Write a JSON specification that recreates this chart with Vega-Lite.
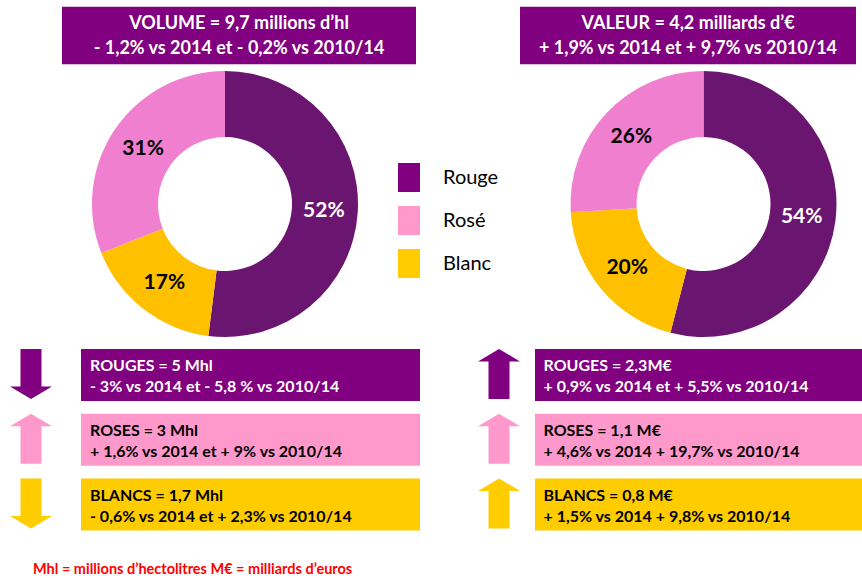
{
  "$schema": "https://vega.github.io/schema/vega-lite/v6.json",
  "width": 862,
  "height": 578,
  "padding": 0,
  "autosize": "none",
  "background": "white",
  "config": {"view": {"stroke": null}, "font": "Lato", "text": {"font": "Lato"}},
  "title": {
    "text": "Mhl = millions d’hectolitres  M€ = milliards d’euros",
    "orient": "bottom", "anchor": "start", "frame": "group",
    "offset": -15, "dx": 33, "color": "#FF0000", "fontSize": 14.5, "fontWeight": "bold", "font": "Lato"
  },
  "datasets": {
    "shares": [
      {"measure": "Volume", "type": "Rouge", "share": 0.52, "order": 1},
      {"measure": "Volume", "type": "Blanc", "share": 0.17, "order": 2},
      {"measure": "Volume", "type": "Rosé", "share": 0.31, "order": 3},
      {"measure": "Valeur", "type": "Rouge", "share": 0.54, "order": 1},
      {"measure": "Valeur", "type": "Blanc", "share": 0.20, "order": 2},
      {"measure": "Valeur", "type": "Rosé", "share": 0.26, "order": 3}
    ],
    "headers": [
      {"measure": "Volume", "text": "VOLUME = 9,7 millions d’hl\n- 1,2% vs 2014 et - 0,2% vs 2010/14"},
      {"measure": "Valeur", "text": "VALEUR = 4,2 milliards d’€\n+ 1,9% vs 2014 et + 9,7% vs 2010/14"}
    ],
    "details": [
      {"measure": "Volume", "type": "Rouge", "direction": "down", "text": "ROUGES = 5 Mhl\n- 3% vs 2014 et - 5,8 % vs 2010/14"},
      {"measure": "Volume", "type": "Rosé", "direction": "up", "text": "ROSES = 3 Mhl\n+ 1,6% vs 2014 et + 9% vs 2010/14"},
      {"measure": "Volume", "type": "Blanc", "direction": "down", "text": "BLANCS = 1,7 Mhl\n- 0,6% vs 2014 et + 2,3% vs 2010/14"},
      {"measure": "Valeur", "type": "Rouge", "direction": "up", "text": "ROUGES = 2,3M€\n+ 0,9% vs 2014 et + 5,5% vs 2010/14"},
      {"measure": "Valeur", "type": "Rosé", "direction": "up", "text": "ROSES = 1,1 M€\n+ 4,6% vs 2014 + 19,7% vs 2010/14"},
      {"measure": "Valeur", "type": "Blanc", "direction": "up", "text": "BLANCS = 0,8 M€\n+ 1,5% vs 2014 + 9,8% vs 2010/14"}
    ]
  },
  "layer": [
    {
      "data": {"name": "headers"},
      "transform": [{"filter": "datum.measure === 'Volume'"}],
      "mark": {"type": "rect", "y": 6.7, "y2": 64.3, "width": 354, "xOffset": 14, "color": "#800080"},
      "encoding": {
        "x": {"field": "measure", "type": "nominal", "scale": {"type": "point", "domain": ["Volume", "Valeur"], "range": [225, 703.5], "padding": 0}, "axis": null}
      }
    },
    {
      "data": {"name": "headers"},
      "transform": [{"filter": "datum.measure === 'Valeur'"}],
      "mark": {"type": "rect", "y": 6.7, "y2": 64.3, "width": 336, "xOffset": -15.5, "color": "#800080"},
      "encoding": {"x": {"field": "measure", "type": "nominal", "axis": null}}
    },
    {
      "data": {"name": "headers"},
      "transform": [{"filter": "datum.measure === 'Volume'"}],
      "mark": {"type": "text", "y": 24, "xOffset": 14, "lineBreak": "\n", "lineHeight": 25, "fontSize": 18, "fontWeight": "bold", "color": "white", "align": "center", "baseline": "middle"},
      "encoding": {"x": {"field": "measure", "type": "nominal", "axis": null}, "text": {"field": "text"}}
    },
    {
      "data": {"name": "headers"},
      "transform": [{"filter": "datum.measure === 'Valeur'"}],
      "mark": {"type": "text", "y": 24, "xOffset": -15.5, "lineBreak": "\n", "lineHeight": 25, "fontSize": 18, "fontWeight": "bold", "color": "white", "align": "center", "baseline": "middle"},
      "encoding": {"x": {"field": "measure", "type": "nominal", "axis": null}, "text": {"field": "text"}}
    },
    {
      "data": {"name": "shares"},
      "transform": [{"filter": "datum.measure === 'Volume'"}],
      "mark": {"type": "arc", "radius": 133, "radius2": 67, "y": 204},
      "encoding": {
        "x": {"field": "measure", "type": "nominal", "axis": null},
        "theta": {"field": "share", "type": "quantitative", "stack": true},
        "order": {"field": "order", "type": "quantitative"},
        "color": {"field": "type", "type": "nominal", "scale": {"domain": ["Rouge", "Blanc", "Rosé"], "range": ["#6A1570", "#FFC000", "#F07FD0"]}, "legend": null}
      }
    },
    {
      "data": {"name": "shares"},
      "transform": [{"filter": "datum.measure === 'Valeur'"}],
      "mark": {"type": "arc", "radius": 133, "radius2": 67, "y": 204},
      "encoding": {
        "x": {"field": "measure", "type": "nominal", "axis": null},
        "theta": {"field": "share", "type": "quantitative", "stack": true},
        "order": {"field": "order", "type": "quantitative"},
        "color": {"field": "type", "type": "nominal", "legend": null}
      }
    },
    {
      "data": {"name": "shares"},
      "transform": [{"filter": "datum.measure === 'Volume'"}],
      "mark": {"type": "text", "radius": 99, "y": 205, "fontSize": 21, "fontWeight": "bold", "baseline": "middle", "align": "center"},
      "encoding": {
        "x": {"field": "measure", "type": "nominal", "axis": null},
        "theta": {"field": "share", "type": "quantitative", "stack": true},
        "order": {"field": "order", "type": "quantitative"},
        "text": {"field": "share", "type": "quantitative", "format": ".0%"},
        "color": {"condition": {"test": "datum.type === 'Rouge'", "value": "white"}, "value": "black"}
      }
    },
    {
      "data": {"name": "shares"},
      "transform": [{"filter": "datum.measure === 'Valeur'"}],
      "mark": {"type": "text", "radius": 99, "y": 205, "fontSize": 21, "fontWeight": "bold", "baseline": "middle", "align": "center"},
      "encoding": {
        "x": {"field": "measure", "type": "nominal", "axis": null},
        "theta": {"field": "share", "type": "quantitative", "stack": true},
        "order": {"field": "order", "type": "quantitative"},
        "text": {"field": "share", "type": "quantitative", "format": ".0%"},
        "color": {"condition": {"test": "datum.type === 'Rouge'", "value": "white"}, "value": "black"}
      }
    },
    {
      "data": {"name": "details"},
      "transform": [{"filter": "datum.measure === 'Volume'"}],
      "mark": {"type": "rect", "width": 339, "height": 52, "xOffset": 25.5},
      "encoding": {
        "x": {"field": "measure", "type": "nominal", "axis": null},
        "y": {"field": "type", "type": "nominal", "scale": {"type": "point", "domain": ["Rouge", "Rosé", "Blanc"], "range": [375, 504.5], "padding": 0}, "axis": null},
        "fill": {"field": "type", "type": "nominal", "scale": {"domain": ["Rouge", "Rosé", "Blanc"], "range": ["#800080", "#FF99CC", "#FFCC00"]},
          "legend": {"orient": "none", "legendX": 394.5, "legendY": 163, "direction": "vertical", "title": null, "padding": 0,
            "symbolType": "M-0.76,-1L0.76,-1L0.76,1L-0.76,1Z", "symbolSize": 841, "symbolStrokeWidth": 0, "symbolOpacity": 1,
            "labelFontSize": 20, "labelFont": "Lato", "labelColor": "#000000", "labelOffset": 19.5, "rowPadding": 14}}
      }
    },
    {
      "data": {"name": "details"},
      "transform": [{"filter": "datum.measure === 'Valeur'"}],
      "mark": {"type": "rect", "width": 327, "height": 52, "xOffset": -5},
      "encoding": {
        "x": {"field": "measure", "type": "nominal", "axis": null},
        "y": {"field": "type", "type": "nominal", "axis": null},
        "fill": {"field": "type", "type": "nominal"}
      }
    },
    {
      "data": {"name": "details"},
      "transform": [{"filter": "datum.measure === 'Volume'"}],
      "mark": {"type": "text", "xOffset": -135, "yOffset": -9, "lineBreak": "\n", "lineHeight": 21, "fontSize": 16, "fontWeight": "bold", "align": "left", "baseline": "middle"},
      "encoding": {
        "x": {"field": "measure", "type": "nominal", "axis": null},
        "y": {"field": "type", "type": "nominal", "axis": null},
        "text": {"field": "text"},
        "color": {"condition": {"test": "datum.type === 'Rouge'", "value": "white"}, "value": "black"}
      }
    },
    {
      "data": {"name": "details"},
      "transform": [{"filter": "datum.measure === 'Valeur'"}],
      "mark": {"type": "text", "xOffset": -160, "yOffset": -9, "lineBreak": "\n", "lineHeight": 21, "fontSize": 16, "fontWeight": "bold", "align": "left", "baseline": "middle"},
      "encoding": {
        "x": {"field": "measure", "type": "nominal", "axis": null},
        "y": {"field": "type", "type": "nominal", "axis": null},
        "text": {"field": "text"},
        "color": {"condition": {"test": "datum.type === 'Rouge'", "value": "white"}, "value": "black"}
      }
    },
    {
      "data": {"name": "details"},
      "transform": [{"filter": "datum.measure === 'Volume'"}],
      "mark": {"type": "point", "filled": true, "opacity": 1, "size": 2500, "xOffset": -194, "yOffset": -1},
      "encoding": {
        "x": {"field": "measure", "type": "nominal", "axis": null},
        "y": {"field": "type", "type": "nominal", "axis": null},
        "shape": {"field": "direction", "type": "nominal", "scale": {"domain": ["down", "up"], "range": ["M-0.42,-1L0.42,-1L0.42,0.5L0.84,0.5L0,1L-0.84,0.5L-0.42,0.5Z", "M-0.42,1L0.42,1L0.42,-0.5L0.84,-0.5L0,-1L-0.84,-0.5L-0.42,-0.5Z"]}, "legend": null},
        "fill": {"field": "type", "type": "nominal"}
      }
    },
    {
      "data": {"name": "details"},
      "transform": [{"filter": "datum.measure === 'Valeur'"}],
      "mark": {"type": "point", "filled": true, "opacity": 1, "size": 2500, "xOffset": -204.5, "yOffset": -1},
      "encoding": {
        "x": {"field": "measure", "type": "nominal", "axis": null},
        "y": {"field": "type", "type": "nominal", "axis": null},
        "shape": {"field": "direction", "type": "nominal", "legend": null},
        "fill": {"field": "type", "type": "nominal"}
      }
    }
  ]
}
